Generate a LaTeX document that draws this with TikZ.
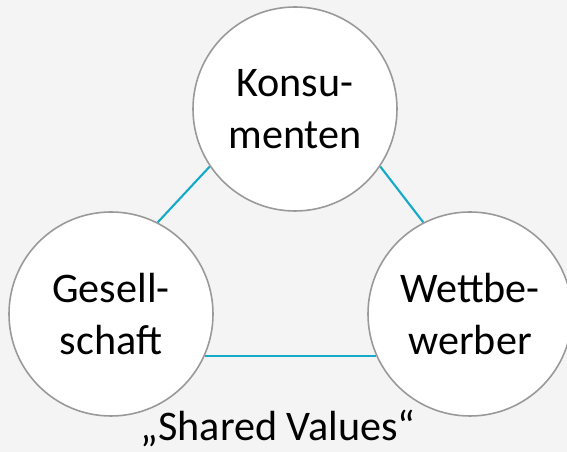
\documentclass[tikz,border=0pt]{standalone}
\usepackage{fontspec}
\setmainfont{Carlito}
\usetikzlibrary{backgrounds}

\definecolor{bggray}{HTML}{F4F4F4}
\definecolor{ringgray}{HTML}{999999}
\definecolor{linkteal}{RGB}{20,170,200}

\tikzset{
    party/.style={circle, draw=ringgray, line width=0.9pt, fill=white,
        minimum size=4.08cm, inner sep=0pt, align=center,
        font=\fontsize{24}{29.5}\selectfont,
        % taller first line sets the two lines a bit below the middle
        execute at begin node={\rule{0pt}{20pt}}},
    link/.style={linkteal, line width=1.2pt},
}

\begin{document}
\begin{tikzpicture}
            \useasboundingbox (0,0) rectangle (11.34,9.04);
            \node[party] (kon) at (5.90,6.86) {Konsu-\\menten};
            \node[party] (ges) at (2.22,2.76) {Gesell-\\schaft};
            \node[party] (wett) at (9.40,2.76) {Wettbe-\\werber};
            \node[anchor=base, font=\fontsize{24}{29.5}\selectfont] (shared) at (5.56,0.22) {„Shared Values“};
            \begin{scope}[on background layer]
                \fill[bggray] (0,0) rectangle (11.34,9.04);
                \draw[link] (kon.214) -- (ges.63);
                \draw[link] (kon.-34) -- (wett.117);
                \draw[link] (ges.-24) -- (wett.204);
            \end{scope}
\end{tikzpicture}
\end{document}
